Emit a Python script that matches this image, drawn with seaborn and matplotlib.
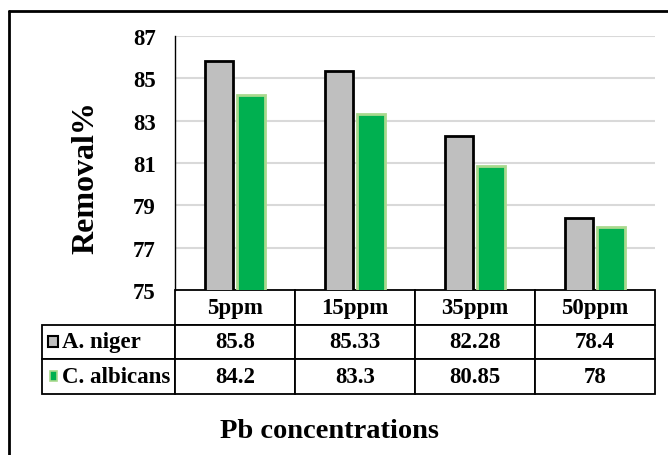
import matplotlib
matplotlib.use("Agg")
import matplotlib.pyplot as plt
import seaborn as sns
import pandas as pd
from matplotlib.patches import Rectangle
from matplotlib.lines import Line2D

# ---- data ----
concentrations = ["5ppm", "15ppm", "35ppm", "50ppm"]
species = ["A. niger", "C. albicans"]
a_niger = [85.8, 85.33, 82.28, 78.4]
c_albicans = [84.2, 83.3, 80.85, 78]
a_niger_labels = ["85.8", "85.33", "82.28", "78.4"]
c_albicans_labels = ["84.2", "83.3", "80.85", "78"]
y_ticks = [75, 77, 79, 81, 83, 85, 87]

df = pd.DataFrame({
    "conc": concentrations * 2,
    "val": a_niger + c_albicans,
    "species": [species[0]] * 4 + [species[1]] * 4,
})

sns.set_theme(style="white")
plt.rcParams["font.family"] = ["Liberation Serif", "DejaVu Serif"]
plt.rcParams["font.weight"] = "bold"
plt.rcParams["text.color"] = "black"
plt.rcParams["axes.labelcolor"] = "black"
plt.rcParams["ytick.color"] = "black"
plt.rcParams["xtick.color"] = "black"

W, H = 668, 456
fig = plt.figure(figsize=(W / 100, H / 100), dpi=100)
ax = fig.add_axes([175 / W, (H - 291) / H, 480 / W, 254 / H])

gray = "#BFBFBF"
green = "#00B050"
sns.barplot(data=df, x="conc", y="val", hue="species", order=concentrations,
            hue_order=species, palette=[gray, green], width=0.54, gap=0.12,
            ax=ax, legend=False, saturation=1, zorder=3)
edgecols = ["black", "#A9D98E"]
for cont, ec in zip(ax.containers, edgecols):
    for bar in cont:
        bar.set_edgecolor(ec)
        bar.set_linewidth(2)

ax.set_ylim(75, 87)
ax.set_xlim(-0.5, 3.5)
ax.set_yticks(y_ticks)
ax.set_yticklabels([str(t) for t in y_ticks], fontsize=16.5, fontweight="bold",
                   color="black")
ax.tick_params(axis="y", length=0, pad=14)
ax.set_xticks([])
ax.set_xlabel("")
ax.set_ylabel("Removal%", fontsize=23, fontweight="bold", color="black")
ax.yaxis.set_label_coords(-0.155, 0.445)

for t in y_ticks[1:]:
    ax.axhline(t, color="#D9D9D9", lw=1.5, zorder=1)
for s in ["top", "right", "bottom"]:
    ax.spines[s].set_visible(False)
ax.spines["left"].set_color("black")
ax.spines["left"].set_linewidth(1.0)

# ---- data table ----
cell_text = [[""] + concentrations,
             [species[0]] + a_niger_labels,
             [species[1]] + c_albicans_labels]
tbl = ax.table(cellText=cell_text, cellLoc="center",
               colWidths=[133 / 613] + [120 / 613] * 4,
               bbox=[(42 - 175) / 480, -(395 - 291) / 254, 613 / 480, (395 - 291) / 254])
tbl.auto_set_font_size(False)
tbl.set_fontsize(16.5)
for (r, c), cell in tbl.get_celld().items():
    cell.set_edgecolor("black")
    cell.set_linewidth(1.3)
    cell.get_text().set_fontweight("bold")
    cell.get_text().set_color("black")
    if r == 0 and c == 0:
        cell.visible_edges = "open"
    if c == 0 and r > 0:
        cell.get_text().set_ha("left")
        cell._loc = "left"
        cell.PAD = 0.15

# legend keys inside table
fig.patches.append(Rectangle((48 / W, (H - 348) / H), 10 / W, 11 / H,
                             transform=fig.transFigure, facecolor=gray,
                             edgecolor="black", lw=1.5, zorder=5))
fig.patches.append(Rectangle((50 / W, (H - 382) / H), 7 / W, 10 / H,
                             transform=fig.transFigure, facecolor=green,
                             edgecolor="#A9D98E", lw=1.2, zorder=5))

fig.text(330 / W, (H - 432) / H, "Pb concentrations", ha="center", va="center",
         fontsize=20.5, fontweight="bold", color="black")

# outer frame
fig.lines.append(Line2D([9 / W, 1.0], [(H - 12) / H] * 2, transform=fig.transFigure,
                        color="black", lw=2))
fig.lines.append(Line2D([9 / W] * 2, [0, (H - 12) / H], transform=fig.transFigure,
                        color="black", lw=2))

fig.savefig("out.png", dpi=100, facecolor="white")
